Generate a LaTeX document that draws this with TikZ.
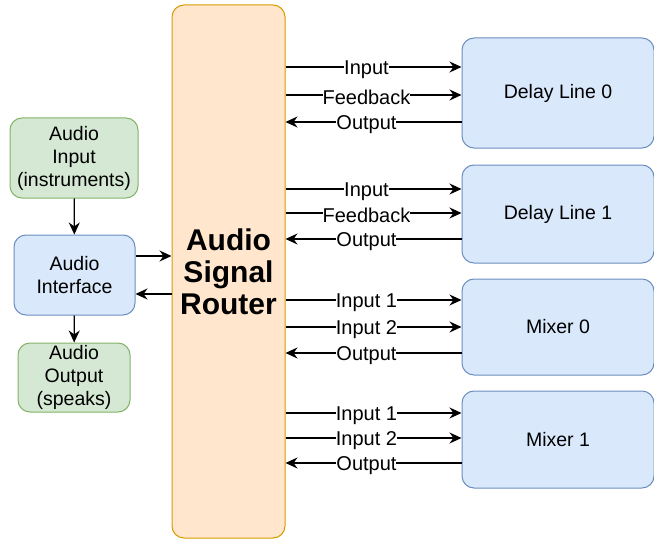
\documentclass[tikz,border=0pt]{standalone}
\usepackage{fontspec}
\setmainfont{Liberation Sans}
\usetikzlibrary{arrows.meta}
\definecolor{gfill}{HTML}{D5E8D4}\definecolor{gdraw}{HTML}{82B366}
\definecolor{bfill}{HTML}{DAE8FC}\definecolor{bdraw}{HTML}{6C8EBF}
\definecolor{ofill}{HTML}{FFE6CC}\definecolor{odraw}{HTML}{D79B00}
\begin{document}
\begin{tikzpicture}[x=1pt,y=-1pt,
 box/.style={draw, line width=1pt, rounded corners=12pt, align=center, inner sep=0pt, font=\fontsize{19.5}{23}\selectfont},
 gbox/.style={box, fill=gfill, draw=gdraw},
 bbox/.style={box, fill=bfill, draw=bdraw},
 arr/.style={line width=1.3pt, -{Stealth[length=12pt,width=11pt]}},
 lbl/.style={fill=white, inner sep=0pt, font=\fontsize{20}{22}\selectfont, pos=0.46, yshift=-2.5pt}]
\useasboundingbox (0,0) rectangle (654,543);
\node[box, fill=ofill, draw=odraw, minimum width=113pt, minimum height=533pt, font=\fontsize{30}{32}\selectfont\bfseries] (router) at (228.5,271.5) {Audio\\Signal\\Router};
\node[gbox, minimum width=128pt, minimum height=80pt] (ain) at (74,158) {Audio\\Input\\(instruments)};
\node[bbox, minimum width=121pt, minimum height=80pt] (aif) at (74.5,275) {Audio\\Interface};
\node[gbox, minimum width=112pt, minimum height=69pt] (aout) at (74,377.5) {Audio\\Output\\(speaks)};
\draw[arr] (ain) -- (aif);
\draw[arr] (aif) -- (aout);
\draw[arr] (aif.east |- 0,256) -- (router.west |- 0,256);
\draw[arr] (router.west |- 0,294) -- (aif.east |- 0,294);
\node[bbox, minimum width=192pt, minimum height=110pt] (dl0) at (558,93) {Delay Line 0};
\node[bbox, minimum width=192pt, minimum height=98pt] (dl1) at (558,214) {Delay Line 1};
\node[bbox, minimum width=192pt, minimum height=96pt] (mx0) at (558,327) {Mixer 0};
\node[bbox, minimum width=192pt, minimum height=97pt] (mx1) at (558,439.5) {Mixer 1};
% Delay Line 0
\draw[arr] (router.east |- 0,67) -- (dl0.west |- 0,67) node[lbl]{Input\ };
\draw[arr] (router.east |- 0,95) -- (dl0.west |- 0,95) node[lbl]{Feedback};
\draw[arr] (dl0.west |- 0,122) -- (router.east |- 0,122) node[lbl,pos=0.54]{Output};
% Delay Line 1
\draw[arr] (router.east |- 0,189) -- (dl1.west |- 0,189) node[lbl]{Input\ };
\draw[arr] (router.east |- 0,213) -- (dl1.west |- 0,213) node[lbl]{Feedback};
\draw[arr] (dl1.west |- 0,239) -- (router.east |- 0,239) node[lbl,pos=0.54]{Output};
% Mixer 0
\draw[arr] (router.east |- 0,300) -- (mx0.west |- 0,300) node[lbl]{Input 1\ };
\draw[arr] (router.east |- 0,327) -- (mx0.west |- 0,327) node[lbl]{Input 2};
\draw[arr] (mx0.west |- 0,353) -- (router.east |- 0,353) node[lbl,pos=0.54]{Output};
% Mixer 1
\draw[arr] (router.east |- 0,413) -- (mx1.west |- 0,413) node[lbl]{Input 1\ };
\draw[arr] (router.east |- 0,438) -- (mx1.west |- 0,438) node[lbl]{Input 2};
\draw[arr] (mx1.west |- 0,463) -- (router.east |- 0,463) node[lbl,pos=0.54]{Output};
\end{tikzpicture}
\end{document}
